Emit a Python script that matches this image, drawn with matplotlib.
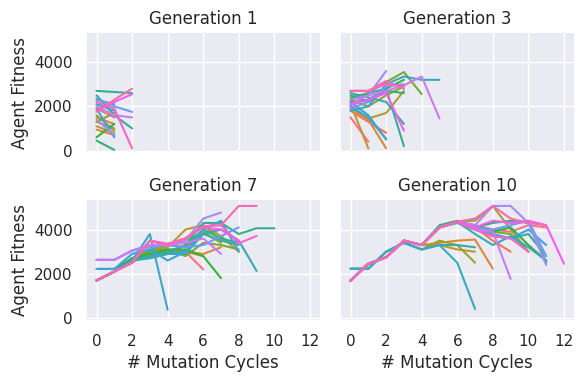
import numpy as np
import pandas as pd
import matplotlib
matplotlib.use("Agg")
import matplotlib.pyplot as plt
import seaborn as sns

# fitness per agent (index = mutation cycle), one list of agents per generation
generations = [1, 3, 7, 10]

gen1 = [
    [1900, 1500],
    [1500, 1200],
    [950, 700],
    [1100, 800],
    [1300, 1000],
    [1600, 900],
    [1300, 1700],
    [600, 1200],
    [450, 30],
    [2700, 2650, 2600],
    [2500, 1600, 1000],
    [2100, 1800],
    [2300, 2100],
    [1900, 600],
    [2350, 2000, 1750],
    [1400, 700],
    [2000, 1600, 1500],
    [1800, 2200, 2550],
    [2200, 1900, 100],
    [1750, 2300, 2800],
]

gen3 = [
    [1500, 400],
    [1800, 1300, 800],
    [1900, 1400, 100],
    [2100, 100],
    [2000, 1450, 1700, 2700],
    [2300, 2000, 2500, 2900],
    [2400, 2600, 3100, 3550, 2550],
    [2200, 2300, 2800, 3200],
    [2500, 2200, 2700, 2600],
    [2300, 2600, 2800, 200],
    [2600, 2400, 2200, 1200],
    [2200, 1600, 500],
    [1800, 2000, 3000, 3350, 3200, 3200],
    [2000, 1500, 530],
    [1900, 2200, 2900, 3000],
    [2300, 2500, 3600],
    [2100, 2500, 2700, 2950, 3350, 1450],
    [2050, 2300, 2600, 900],
    [2700, 2700, 3000, 2900],
    [2700, 2700, 3150, 2800],
]

gen7 = [
    [1700, 2100, 2500, 3000, 3100, 3000, 2200],
    [1700, 2100, 2600, 2900, 3000, 3000, 2800],
    [1700, 2100, 2700, 2850, 3050, 3000, 2900, 3200],
    [1700, 2100, 2700, 3000, 3200, 4000, 4200, 3500],
    [1700, 2100, 2700, 3100, 3300, 3500, 4200, 3700, 3000],
    [1700, 2100, 2700, 3000, 3300, 3200, 3900, 3400],
    [1700, 2100, 2700, 3000, 3100, 2800, 3400, 3300, 3100],
    [2220, 2220, 2700, 2900, 3100, 3100, 2800, 1800],
    [1700, 2100, 2600, 2800, 3000, 3300, 4000, 3600, 3400],
    [1700, 2100, 2600, 2800, 2900, 3300, 4300, 4300, 3800, 4060, 4060],
    [1700, 2100, 2600, 2700, 2900, 2900, 3800, 3500, 3300],
    [1700, 2100, 2600, 2800, 2900, 3000, 3800, 4000, 3500, 2130],
    [1700, 2100, 2600, 3800, 370],
    [2220, 2220, 2900, 3100, 2600, 3000, 4000, 4400, 3000],
    [2630, 2630, 3050, 3200, 3300, 3200, 3300, 3700, 4100],
    [2630, 2630, 3050, 3300, 3350, 3500, 4500, 4770],
    [2630, 2630, 3050, 3300, 3300, 3400, 3600, 2900],
    [1700, 2100, 2500, 3500, 3300, 3600, 4100, 4000, 3500],
    [1700, 2100, 2500, 3500, 3350, 3600, 4150, 4200, 3380, 3710],
    [1700, 2100, 2500, 3500, 3350, 3600, 4150, 4200, 5070, 5070],
]

gen10 = [
    [1690, 2450, 2750, 3500, 3300, 4100, 4350, 4200, 4000, 3900, 4200, 4100],
    [1690, 2450, 2750, 3500, 3300, 4100, 4350, 4100, 3500, 3000],
    [1690, 2450, 2750, 3500, 3300, 3400, 3500, 3550, 2230],
    [1690, 2450, 2750, 3500, 3300, 3300, 3100, 3000],
    [1690, 2450, 2750, 3500, 3300, 4100, 4350, 4400, 5070, 4000, 3000],
    [2230, 2230, 3000, 3400, 3100, 3500, 3300, 2500],
    [1690, 2450, 2750, 3500, 3300, 4100, 4350, 4200, 3900, 3800, 3000],
    [1690, 2450, 2750, 3500, 3300, 4100, 4350, 4000, 3900, 4100, 3300, 2600],
    [1690, 2450, 2750, 3500, 3300, 4200, 4400, 4100, 4300, 4400, 4300, 2500],
    [1690, 2450, 2750, 3500, 3300, 4100, 4300, 4000, 3700, 3600, 3800, 2800],
    [2230, 2230, 3000, 3400, 3100, 3300, 3300, 3200],
    [1690, 2450, 2750, 3500, 3300, 4100, 4350, 3800, 3300, 3700, 3200, 2600],
    [2230, 2230, 3000, 3400, 3100, 3300, 2500, 410],
    [1690, 2450, 2750, 3500, 3300, 4100, 4350, 4000, 3800, 3600, 4000, 3300],
    [1690, 2450, 2750, 3500, 3300, 4100, 4350, 4100, 4000, 4200, 4400, 2800],
    [1690, 2450, 2750, 3500, 3300, 4100, 4350, 4200, 5070, 5070, 4300, 2400],
    [1690, 2450, 2750, 3500, 3300, 4100, 4350, 4000, 3900, 1770],
    [1690, 2450, 2750, 3500, 3300, 4100, 4350, 4100, 4400, 4300, 4400, 4200, 2450],
    [1690, 2450, 2750, 3500, 3300, 4100, 4350, 4000, 3700, 3600, 3000],
    [1690, 2450, 2750, 3500, 3300, 4100, 4350, 4500, 5070, 4500, 4300, 4200],
]


def to_frame(gen, agents):
    rows = []
    for agent, vals in enumerate(agents):
        for cycle, fit in enumerate(vals):
            rows.append({"generation": gen, "agent": agent,
                         "cycle": cycle, "fitness": fit})
    return rows


rows = []
for g, agents in zip(generations, [gen1, gen3, gen7, gen10]):
    rows += to_frame(g, agents)
df = pd.DataFrame(rows)

sns.set_theme(style="darkgrid")
palette = sns.color_palette("husl", 20)

fig, axes = plt.subplots(2, 2, figsize=(5.84, 3.84), sharex=True, sharey=True)
fig.subplots_adjust(left=0.147, right=0.984, top=0.917, bottom=0.165,
                    wspace=0.082, hspace=0.38)

for ax, g in zip(axes.flat, generations):
    sub = df[df["generation"] == g]
    sns.lineplot(data=sub, x="cycle", y="fitness", hue="agent",
                 palette=palette, legend=False, ax=ax, estimator=None)
    ax.set_title(f"Generation {g}")
    ax.set_xlabel("")
    ax.set_ylabel("")

ax = axes[0, 0]
ax.set_xlim(-0.6, 12.6)
ax.set_ylim(-120, 5370)
ax.set_xticks(range(0, 13, 2))
ax.set_yticks([0, 2000, 4000])
for a in axes[:, 0]:
    a.set_ylabel("Agent Fitness")
for a in axes[1, :]:
    a.set_xlabel("# Mutation Cycles")

fig.savefig("out.png", dpi=100)
